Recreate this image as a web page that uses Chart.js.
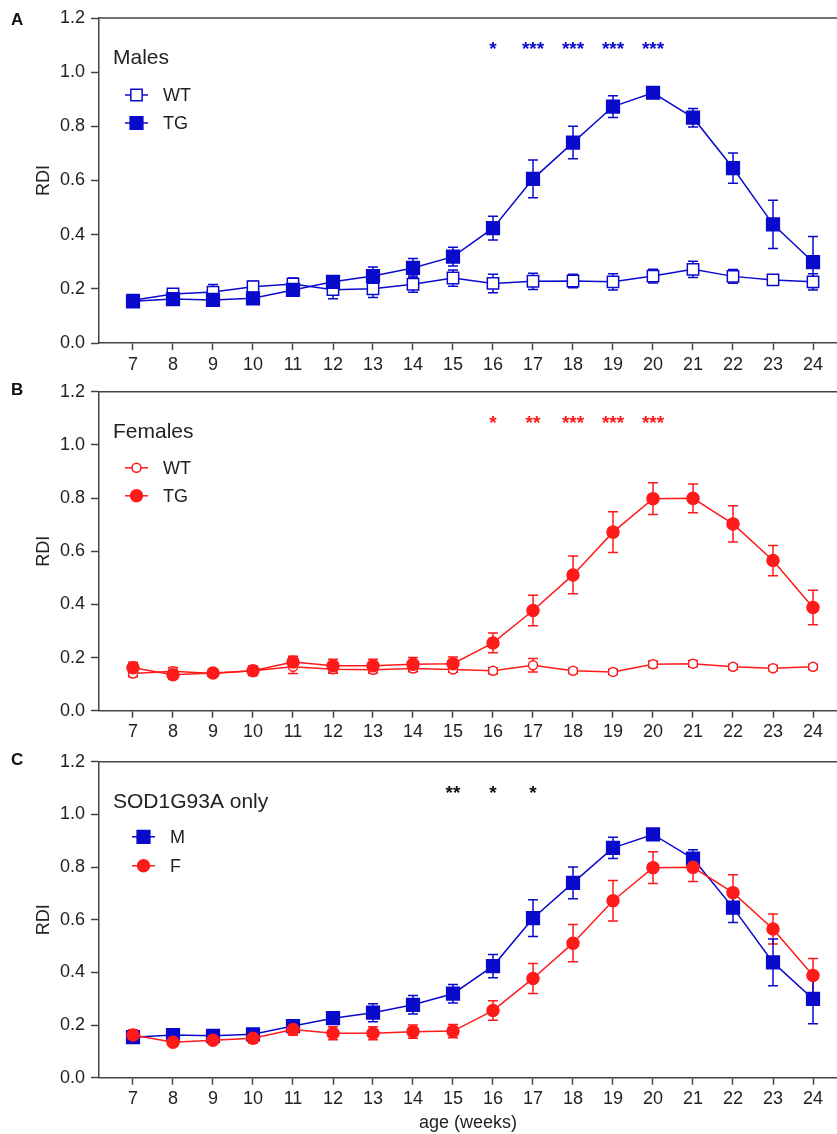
<!DOCTYPE html>
<html>
<head>
<meta charset="utf-8">
<script src="https://cdn.jsdelivr.net/npm/chart.js@4.4.1/dist/chart.umd.min.js"></script>
<style>
  body { margin: 0; background: #fff; }
  canvas { position: absolute; left: 0; }
</style>
</head>
<body>
<canvas id="chartA" width="837" height="375" style="top:0px"></canvas>
<canvas id="chartB" width="837" height="370" style="top:375px"></canvas>
<canvas id="chartC" width="837" height="389" style="top:745px"></canvas>
<script>
// semanas de idade
const weeks = [7, 8, 9, 10, 11, 12, 13, 14, 15, 16, 17, 18, 19, 20, 21, 22, 23, 24];
const yTicks = [0, 0.2, 0.4, 0.6, 0.8, 1.0, 1.2];

// machos
const maleWT    = [0.158, 0.181, 0.188, 0.208, 0.218, 0.197, 0.200, 0.217, 0.240, 0.220, 0.228, 0.229, 0.226, 0.247, 0.272, 0.246, 0.233, 0.226];
const maleWTerr = [0.010, 0.015, 0.028, 0.020, 0.022, 0.034, 0.032, 0.030, 0.030, 0.034, 0.030, 0.025, 0.030, 0.025, 0.030, 0.025, 0.015, 0.030];
const maleTG    = [0.154, 0.162, 0.159, 0.165, 0.196, 0.226, 0.247, 0.277, 0.319, 0.424, 0.606, 0.740, 0.873, 0.924, 0.832, 0.646, 0.438, 0.299];
const maleTGerr = [0.010, 0.010, 0.010, 0.010, 0.012, 0.015, 0.034, 0.035, 0.035, 0.044, 0.070, 0.060, 0.040, 0.010, 0.034, 0.056, 0.089, 0.094];

// fêmeas
const femWT     = [0.140, 0.148, 0.140, 0.150, 0.165, 0.156, 0.154, 0.159, 0.155, 0.150, 0.171, 0.150, 0.146, 0.175, 0.177, 0.165, 0.160, 0.165];
const femWTerr  = [0.012, 0.015, 0.010, 0.012, 0.025, 0.015, 0.012, 0.012, 0.010, 0.012, 0.025, 0.010, 0.010, 0.012, 0.012, 0.010, 0.010, 0.010];
const femTG     = [0.162, 0.135, 0.142, 0.150, 0.183, 0.169, 0.169, 0.175, 0.177, 0.255, 0.377, 0.511, 0.672, 0.798, 0.799, 0.703, 0.565, 0.388];
const femTGerr  = [0.020, 0.015, 0.012, 0.018, 0.022, 0.025, 0.025, 0.025, 0.025, 0.037, 0.057, 0.071, 0.077, 0.060, 0.054, 0.068, 0.057, 0.065];

// asteriscos de significância
const starsAWeeks = [16, 17, 18, 19, 20];
const starsAText  = ['*', '***', '***', '***', '***'];
const starsBWeeks = [16, 17, 18, 19, 20];
const starsBText  = ['*', '**', '***', '***', '***'];
const starsCWeeks = [15, 16, 17];
const starsCText  = ['**', '*', '*'];

const BLUE = '#0a0acc';
const RED = '#ff1a1a';
const INK = '#222';
const AXIS = '#444';
const FONT = 'Arial, "Liberation Sans", sans-serif';

function pts(vals) {
  return weeks.map((w, i) => ({x: w, y: vals[i]}));
}

// barras de erro desenhadas antes dos pontos
const errorBars = {
  id: 'errorBars',
  beforeDatasetsDraw(chart) {
    const ctx = chart.ctx;
    const ys = chart.scales.y;
    chart.data.datasets.forEach((ds, i) => {
      if (!ds.errors) return;
      const meta = chart.getDatasetMeta(i);
      ctx.save();
      ctx.strokeStyle = ds.borderColor;
      ctx.lineWidth = 1.5;
      meta.data.forEach((p, j) => {
        const v = ds.data[j].y;
        const e = ds.errors[j];
        const top = ys.getPixelForValue(v + e);
        const bot = ys.getPixelForValue(v - e);
        ctx.beginPath();
        ctx.moveTo(p.x, top); ctx.lineTo(p.x, bot);
        ctx.moveTo(p.x - 5, top); ctx.lineTo(p.x + 5, top);
        ctx.moveTo(p.x - 5, bot); ctx.lineTo(p.x + 5, bot);
        ctx.stroke();
      });
      ctx.restore();
    });
  }
};

// moldura, título, legenda, asteriscos e letra do painel
const decor = {
  id: 'decor',
  afterDraw(chart, args, opts) {
    const ctx = chart.ctx;
    const area = chart.chartArea;
    const xs = chart.scales.x;
    ctx.save();
    ctx.strokeStyle = AXIS;
    ctx.lineWidth = 1.5;
    ctx.beginPath();
    ctx.moveTo(area.left, area.top);
    ctx.lineTo(area.right, area.top);
    ctx.stroke();

    ctx.fillStyle = '#111';
    ctx.font = 'bold 17px ' + FONT;
    ctx.textBaseline = 'middle';
    ctx.textAlign = 'left';
    ctx.fillText(opts.letter, 11, opts.letterY);

    ctx.fillStyle = INK;
    ctx.font = '21px ' + FONT;
    ctx.fillText(opts.title, area.left + 14, area.top + 40);

    ctx.font = '18px ' + FONT;
    opts.legend.forEach((idx, k) => {
      const ds = chart.data.datasets[idx];
      const y = area.top + opts.legendY[k];
      ctx.strokeStyle = ds.borderColor;
      ctx.lineWidth = 1.5;
      ctx.beginPath();
      ctx.moveTo(opts.legendX[0], y);
      ctx.lineTo(opts.legendX[1], y);
      ctx.stroke();
      ctx.fillStyle = ds.pointBackgroundColor;
      Chart.helpers.drawPoint(ctx, {
        pointStyle: ds.pointStyle, radius: ds.pointRadius, rotation: 0, borderWidth: ds.pointBorderWidth
      }, (opts.legendX[0] + opts.legendX[1]) / 2, y);
      ctx.fillStyle = INK;
      ctx.fillText(ds.label, opts.legendX[2], y + 1);
    });

    ctx.fillStyle = opts.starColor;
    ctx.font = 'bold 19px ' + FONT;
    ctx.textAlign = 'center';
    opts.starWeeks.forEach((w, k) => {
      ctx.fillText(opts.starText[k], xs.getPixelForValue(w), area.top + 32);
    });
    ctx.restore();
  }
};

function series(label, vals, errs, color, style, radius, open) {
  return {
    label: label,
    data: pts(vals),
    errors: errs,
    borderColor: color,
    borderWidth: 1.5,
    pointStyle: style,
    pointRadius: radius,
    pointHoverRadius: radius,
    pointBorderWidth: 1.5,
    pointBorderColor: color,
    pointBackgroundColor: open ? '#fff' : color,
    fill: false,
    tension: 0
  };
}

function makeChart(id, datasets, cfg) {
  const canvasH = document.getElementById(id).height;
  return new Chart(document.getElementById(id), {
    type: 'line',
    data: { datasets: datasets },
    plugins: [errorBars, decor],
    options: {
      responsive: false,
      animation: false,
      devicePixelRatio: 1,
      layout: { autoPadding: false, padding: { top: cfg.padTop, right: 0, left: 0, bottom: 0 } },
      plugins: {
        legend: { display: false },
        tooltip: { enabled: false },
        decor: cfg.decor
      },
      scales: {
        x: {
          type: 'linear',
          min: 6.15,
          max: 24.6,
          afterBuildTicks: s => { s.ticks = weeks.map(v => ({value: v})); },
          afterFit: s => { s.height = canvasH - cfg.plotBottom; s.paddingLeft = 0; s.paddingRight = 0; },
          ticks: { color: INK, font: { size: 18, family: FONT }, padding: 4, maxRotation: 0, autoSkip: false },
          grid: { drawOnChartArea: false, drawTicks: true, tickLength: 7, tickColor: AXIS, tickWidth: 1.5 },
          border: { display: true, color: AXIS, width: 1.5 },
          title: { display: !!cfg.xTitle, text: cfg.xTitle || '', color: INK, font: { size: 18, family: FONT }, padding: { top: 0, bottom: 0 } }
        },
        y: {
          min: 0,
          max: 1.2,
          afterBuildTicks: s => { s.ticks = yTicks.map(v => ({value: v})); },
          afterFit: s => { s.width = 99; },
          ticks: { color: INK, font: { size: 18, family: FONT }, padding: 6, callback: v => v.toFixed(1) },
          grid: { drawOnChartArea: false, drawTicks: true, tickLength: 8, tickColor: AXIS, tickWidth: 1.5 },
          border: { display: true, color: AXIS, width: 1.5 },
          title: { display: true, text: 'RDI', color: INK, font: { size: 18, family: FONT }, padding: { top: 33, bottom: 0 } }
        }
      }
    }
  });
}

makeChart('chartA', [
  series('TG', maleTG, maleTGerr, BLUE, 'rect', 9, false),
  series('WT', maleWT, maleWTerr, BLUE, 'rect', 8, true)
], {
  padTop: 18, plotBottom: 343,
  decor: { letter: 'A', letterY: 20, title: 'Males', legend: [1, 0], legendY: [77, 105], legendX: [125, 148, 163],
           starColor: BLUE, starWeeks: starsAWeeks, starText: starsAText }
});

makeChart('chartB', [
  series('TG', femTG, femTGerr, RED, 'circle', 6, false),
  series('WT', femWT, femWTerr, RED, 'circle', 4.5, true)
], {
  padTop: 10, plotBottom: 335.7,
  decor: { letter: 'B', letterY: 15, title: 'Females', legend: [1, 0], legendY: [76, 104], legendX: [125, 148, 163],
           starColor: RED, starWeeks: starsBWeeks, starText: starsBText }
});

makeChart('chartC', [
  series('F', femTG, femTGerr, RED, 'circle', 6, false),
  series('M', maleTG, maleTGerr, BLUE, 'rect', 9, false)
], {
  padTop: 7.7, plotBottom: 332.7, xTitle: 'age (weeks)',
  decor: { letter: 'C', letterY: 15, title: 'SOD1G93A only', legend: [1, 0], legendY: [75, 104], legendX: [132, 155, 170],
           starColor: '#111', starWeeks: starsCWeeks, starText: starsCText }
});
</script>
</body>
</html>
